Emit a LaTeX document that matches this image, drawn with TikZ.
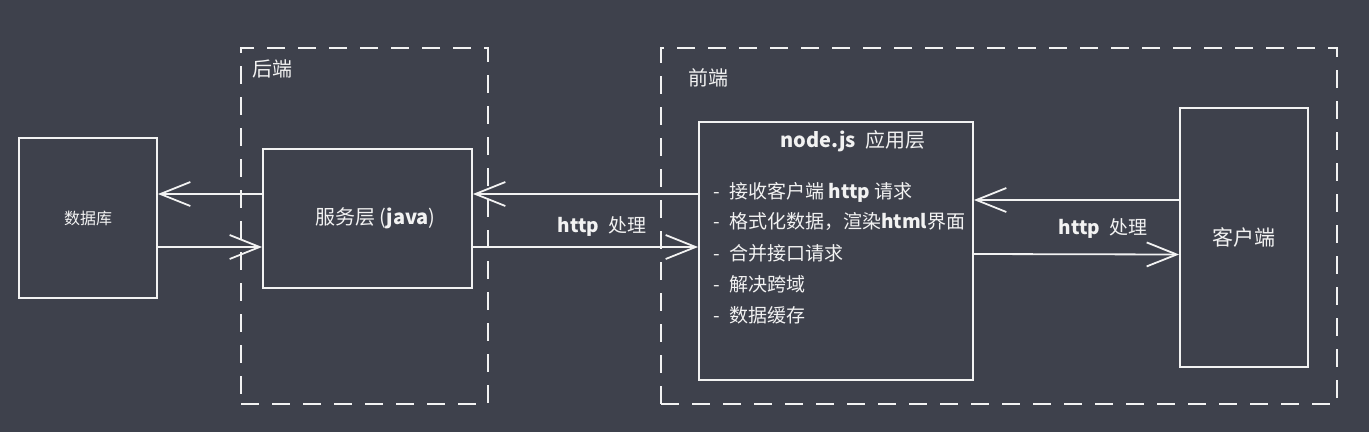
\documentclass[tikz,border=0pt]{standalone}
\usepackage{fontspec}
\setmainfont{Noto Sans CJK SC}
\usetikzlibrary{arrows.meta, positioning}
\definecolor{board}{HTML}{3E414C}
\definecolor{chalk}{HTML}{F2F2F2}
\newcommand\hand[1]{{\bfseries #1}}

\begin{document}
\begin{tikzpicture}[
    x=1pt, y=-1pt,
    box/.style   = {draw=chalk, line width=1.8pt, text=chalk, inner sep=0pt},
    zone/.style  = {draw=chalk, line width=1.8pt, dash pattern=on 18pt off 13pt, inner sep=0pt},
    lbl/.style   = {text=chalk, inner sep=0pt, font=\fontsize{19}{22}\selectfont},
    arr/.style   = {-{Straight Barb[length=30pt, width=24pt]}, draw=chalk, line width=1.8pt},
]

% ---- Background ----
\fill[board] (0,0) rectangle (1369,432);

% ---- Zones ----
\node[zone, minimum width=247pt, minimum height=356pt] (backend)  at (364.5,226) {};
\node[zone, minimum width=676pt, minimum height=356pt] (frontend) at (999,226)   {};
\node[lbl, anchor=north west, font=\fontsize{20}{22}\selectfont] (backlbl)  at (252,60) {后端};
\node[lbl, anchor=north west, font=\fontsize{20}{22}\selectfont] (frontlbl) at (688,68) {前端};

% ---- Boxes ----
\node[box, minimum width=138pt, minimum height=160pt, font=\fontsize{16}{18}\selectfont] (db)     at (88,218)      {数据库};
\node[box, minimum width=209pt, minimum height=139pt, font=\fontsize{20}{22}\selectfont] (svc)    at (367.5,218.5) {\hspace{16pt}服务层 (\hand{java})};
\node[box, minimum width=274pt, minimum height=258pt] (app)    at (836,251)     {};
\node[box, minimum width=128pt, minimum height=259pt, font=\fontsize{21}{22}\selectfont] (client) at (1244,237.5) {客户端};

% ---- Application layer text ----
\node[lbl, font=\fontsize{20}{22}\selectfont] (apptitle) at (853,141) {\hand{node.js}\enspace 应用层};
\node[lbl, anchor=west] (item1) at (713,192) {-\enspace 接收客户端 \hand{http} 请求};
\node[lbl, anchor=west] (item2) at (713,222) {-\enspace 格式化数据，渲染\hand{html}界面};
\node[lbl, anchor=west] (item3) at (713,253) {-\enspace 合并接口请求};
\node[lbl, anchor=west] (item4) at (713,284) {-\enspace 解决跨域};
\node[lbl, anchor=west] (item5) at (713,315) {-\enspace 数据缓存};

% ---- Arrows ----
\draw[arr] ([yshift=24.5pt]svc.west)  -- ([yshift=24pt]db.east);
\draw[arr] ([yshift=-29pt]db.east)    -- ([yshift=-28.5pt]svc.west);
\draw[arr] ([yshift=57pt]app.west)    -- ([yshift=24.5pt]svc.east);
\draw[arr] ([yshift=-28.5pt]svc.east) -- ([yshift=4pt]app.west);
\draw[arr] ([yshift=37.5pt]client.west) -- ([yshift=51pt]app.east);
\draw[arr] ([yshift=-3pt]app.east)    -- ([yshift=-17pt]client.west);

% ---- Arrow labels ----
\node[lbl] (svclbl)    at (602,226)  {\hand{http}\enspace 处理};
\node[lbl] (clientlbl) at (1103,228) {\hand{http}\enspace 处理};

\end{tikzpicture}
\end{document}
